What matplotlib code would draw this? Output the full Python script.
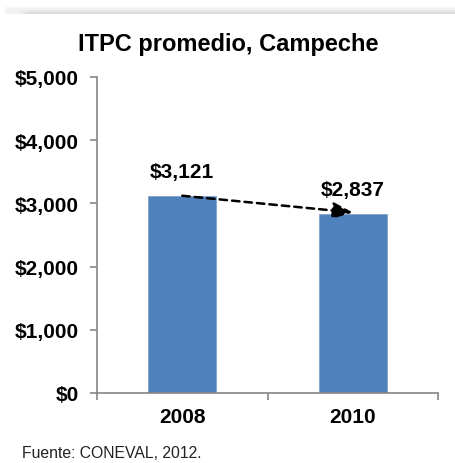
import matplotlib.pyplot as plt
import numpy as np

years = ['2008', '2010']
itpc = [3121, 2837]
value_labels = ['$3,121', '$2,837']
yticks = [0, 1000, 2000, 3000, 4000, 5000]
ytick_labels = ['$0', '$1,000', '$2,000', '$3,000', '$4,000', '$5,000']

plt.rcParams['font.family'] = ['Liberation Sans', 'DejaVu Sans']

fig = plt.figure(figsize=(4.55, 4.64), dpi=100)

# thin shadow band at the top of the picture
sh = fig.add_axes([5/455, 1 - 15/464, 450/455, 8/464])
grad = np.linspace(0.99, 0.86, 8).reshape(-1, 1)
grad = np.repeat(grad, 50, axis=1)
grad[:, :2] = np.maximum(grad[:, :2], 0.95)
sh.imshow(grad, cmap='gray', vmin=0, vmax=1, aspect='auto', interpolation='bilinear')
sh.axis('off')

ax = fig.add_axes([97/455, 1 - 394/464, 341/455, 316/464])
x = np.arange(len(years))
ax.bar(x, itpc, width=0.4, color='#4F81BD', edgecolor='#7FA3D0', linewidth=0.6, zorder=2)
ax.set_xlim(-0.5, 1.5)
ax.set_ylim(0, 5000)

ax.set_yticks(yticks)
ax.set_yticklabels(ytick_labels, fontsize=15, fontweight='bold')
ax.set_xticks([-0.5, 0.5, 1.5])
ax.set_xticklabels([])
ax.set_xticks(x, minor=True)
ax.set_xticklabels(years, minor=True, fontsize=15, fontweight='bold')
ax.tick_params(axis='x', which='minor', length=0, pad=10)
ax.tick_params(axis='x', which='major', length=5, color='#868686', width=1.2)
ax.tick_params(axis='y', length=5, color='#868686', width=1.2, pad=8)

for s in ['top', 'right']:
    ax.spines[s].set_visible(False)
for s in ['left', 'bottom']:
    ax.spines[s].set_color('#868686')
    ax.spines[s].set_linewidth(1.2)

for xi, v, lab in zip(x, itpc, value_labels):
    ax.text(xi, v + 390, lab, ha='center', va='center', fontsize=15, fontweight='bold')

ax.annotate('', xy=(x[1], itpc[1] + 20), xytext=(x[0], itpc[0]),
            arrowprops=dict(arrowstyle='-|>,head_length=1.2,head_width=0.5',
                            linestyle=(0, (3, 2)), lw=1.8, color='black',
                            shrinkA=0, shrinkB=0), zorder=3)

fig.text(228/455, 1 - 45/464, 'ITPC promedio, Campeche', ha='center', va='center',
         fontsize=17, fontweight='bold')
fig.text(22/455, 1 - 454/464, 'Fuente: CONEVAL, 2012.', ha='left', va='center',
         fontsize=11.3, color='#222222')

fig.savefig('out.png', dpi=100)
